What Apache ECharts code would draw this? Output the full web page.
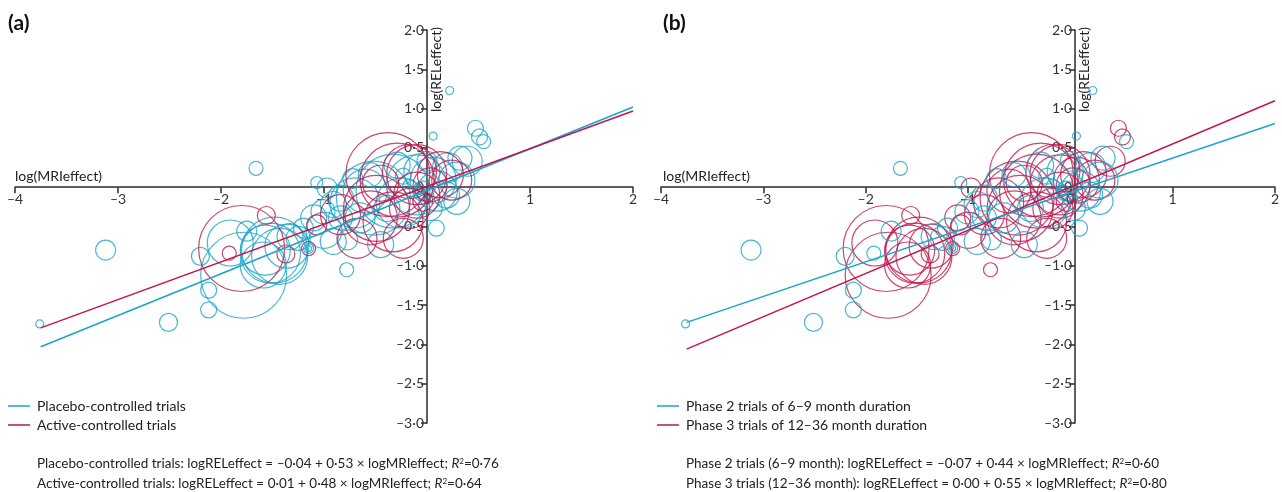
<!DOCTYPE html>
<html>
<head>
<meta charset="utf-8">
<script src="https://cdn.jsdelivr.net/npm/echarts@6/dist/echarts.min.js"></script>
<style>
  html, body { margin: 0; padding: 0; background: #fff; }
  #chart { width: 1282px; height: 492px; }
</style>
</head>
<body>
<div id="chart"></div>
<script>
// tick values and their printed labels
const xTicks = [-4, -3, -2, -1, 0, 1, 2];
const xTickLabels = ['–4', '–3', '–2', '–1', '0', '1', '2'];
const yTicks = [-3, -2.5, -2, -1.5, -1, -0.5, 0, 0.5, 1, 1.5, 2];
const yTickLabels = ['–3·0', '–2·5', '–2·0', '–1·5', '–1·0', '–0·5', '0', '0·5', '1·0', '1·5', '2·0'];

// one row per trial: log(MRIeffect), log(RELeffect), weight, control arm (P/A), phase (2/3)
const trials = [
  [0.22, 1.23, 4, 'P', 2],
  [-1.66, 0.24, 7, 'P', 2],
  [-3.12, -0.80, 10, 'P', 2],
  [-2.51, -1.72, 9, 'P', 2],
  [-3.76, -1.74, 4, 'P', 2],
  [-1.07, 0.06, 6, 'P', 2],
  [-2.20, -0.88, 9, 'P', 2],
  [-2.12, -1.31, 8, 'P', 2],
  [-2.12, -1.56, 8, 'P', 2],
  [-1.92, -0.84, 7, 'A', 2],
  [-1.80, -0.78, 43, 'A', 3],
  [-1.78, -1.12, 43, 'P', 3],
  [-1.91, -0.71, 23, 'P', 3],
  [-1.56, -0.36, 9, 'A', 3],
  [-1.37, -0.85, 9, 'A', 3],
  [-1.15, -0.78, 7, 'A', 3],
  [-1.15, -0.78, 5, 'P', 2],
  [-1.15, -0.78, 3, 'P', 2],
  [-1.07, -0.48, 10, 'A', 3],
  [-0.78, -1.05, 7, 'P', 3],
  [-1.57, -0.80, 25, 'P', 3],
  [-1.52, -0.84, 30, 'P', 3],
  [-1.48, -0.80, 33, 'P', 3],
  [-1.43, -0.88, 28, 'P', 3],
  [-1.36, -0.75, 22, 'P', 3],
  [-1.59, -0.99, 23, 'P', 3],
  [-1.75, -0.56, 10, 'P', 2],
  [-1.33, -0.63, 13, 'P', 2],
  [-1.25, -0.65, 12, 'P', 2],
  [-1.20, -0.52, 10, 'P', 2],
  [-1.10, -0.39, 13, 'P', 3],
  [-1.01, -0.31, 12, 'P', 2],
  [-0.91, -0.22, 13, 'P', 2],
  [-0.84, -0.39, 12, 'P', 2],
  [-0.77, -0.67, 10, 'P', 2],
  [-1.00, -0.55, 18, 'P', 3],
  [-0.70, -0.20, 25, 'P', 3],
  [-0.38, 0.16, 42, 'A', 3],
  [-0.29, 0.09, 37, 'A', 3],
  [-0.10, 0.16, 30, 'A', 3],
  [0.13, 0.16, 23, 'A', 3],
  [0.24, 0.09, 20, 'A', 3],
  [0.03, 0.03, 17, 'A', 3],
  [-0.45, 0.05, 18, 'A', 3],
  [-0.55, -0.39, 27, 'A', 3],
  [-0.33, -0.44, 30, 'A', 3],
  [-0.17, -0.27, 20, 'A', 3],
  [-0.84, -0.35, 20, 'A', 3],
  [-0.68, -0.65, 20, 'A', 3],
  [-0.23, -0.65, 20, 'A', 3],
  [-0.10, -0.10, 23, 'A', 3],
  [-0.04, -0.18, 10, 'A', 3],
  [-0.49, -0.27, 33, 'A', 3],
  [-0.17, 0.20, 27, 'A', 3],
  [-0.33, -0.05, 37, 'P', 3],
  [-0.10, 0.03, 30, 'P', 3],
  [0.06, 0.09, 23, 'P', 3],
  [-0.60, -0.05, 22, 'P', 3],
  [0.29, 0.09, 18, 'P', 2],
  [0.32, 0.37, 12, 'P', 2],
  [0.47, 0.75, 8, 'P', 3],
  [0.51, 0.64, 8, 'P', 3],
  [0.55, 0.58, 7, 'P', 2],
  [0.06, 0.65, 4, 'P', 2],
  [0.09, -0.52, 8, 'P', 2],
  [-0.72, 0.11, 10, 'P', 2],
  [0.29, -0.18, 13, 'P', 2],
  [-0.23, 0.14, 8, 'P', 2],
  [-0.17, 0.01, 7, 'P', 2],
  [-0.07, -0.03, 5, 'P', 2],
  [-0.04, -0.05, 10, 'P', 2],
  [-0.29, 0.28, 13, 'P', 2],
  [0.00, 0.33, 10, 'P', 2],
  [-0.55, 0.16, 12, 'P', 2],
  [-0.52, -0.14, 37, 'P', 3],
  [-0.84, -0.14, 13, 'P', 2],
  [-0.97, -0.01, 10, 'P', 3],
  [-0.65, -0.39, 15, 'P', 2],
  [-0.39, -0.27, 13, 'P', 2],
  [0.03, -0.27, 12, 'P', 2],
  [0.19, -0.10, 13, 'P', 2],
  [0.39, 0.33, 15, 'P', 3],
  [-0.25, -0.20, 25, 'P', 2],
  [0.10, -0.05, 20, 'P', 2],
  [-0.05, 0.20, 18, 'P', 2],
  [0.20, 0.25, 15, 'P', 2],
  [-0.91, -0.69, 13, 'P', 2],
  [-0.45, -0.73, 13, 'P', 2]
];

// fitted lines, end points
const fitPlacebo = [[-3.75, -2.03], [2, 1.02]];
const fitActive = [[-3.75, -1.79], [2, 0.97]];
const fitPhase2 = [[-3.75, -1.72], [2, 0.81]];
const fitPhase3 = [[-3.75, -2.06], [2, 1.10]];

const namesA = ['Placebo-controlled trials', 'Active-controlled trials'];
const namesB = ['Phase 2 trials of 6–9 month duration', 'Phase 3 trials of 12–36 month duration'];
const eqA = [
  ['Placebo-controlled trials: logRELeffect = –0·04 + 0·53 × logMRIeffect; ', '=0·76'],
  ['Active-controlled trials: logRELeffect = 0·01 + 0·48 × logMRIeffect; ', '=0·64']
];
const eqB = [
  ['Phase 2 trials (6–9 month): logRELeffect = –0·07 + 0·44 × logMRIeffect; ', '=0·60'],
  ['Phase 3 trials (12–36 month): logRELeffect = 0·00 + 0·55 × logMRIeffect; ', '=0·80']
];

const BLUE = '#19a5cb';
const RED = '#c1164c';
const FONT = 'Lato, "Liberation Sans", sans-serif';

const chart = echarts.init(document.getElementById('chart'));

const pick = (col, val) => trials.filter(t => t[col] === val).map(t => [t[0], t[1], t[2]]);

// axes are moved onto the origin with offset (grid height 393 -> zero 235.8px above bottom)
function xAxisFor(grid) {
  return {
    type: 'value', gridIndex: grid, min: -4, max: 2, interval: 1,
    position: 'bottom', offset: -235.8,
    axisLine: { onZero: false, lineStyle: { color: '#2b2b2b', width: 1.5 } },
    axisTick: { length: 6, lineStyle: { color: '#2b2b2b', width: 1.5 } },
    axisLabel: {
      fontFamily: FONT, fontSize: 14, color: '#333', margin: 5,
      formatter: v => xTickLabels[xTicks.indexOf(v)]
    },
    splitLine: { show: false }
  };
}
function yAxisFor(grid, off) {
  return {
    type: 'value', gridIndex: grid, min: -3, max: 2, interval: 0.5,
    position: 'left', offset: off,
    axisLine: { onZero: false, lineStyle: { color: '#2b2b2b', width: 1.5 } },
    axisTick: { length: 6, lineStyle: { color: '#2b2b2b', width: 1.5 } },
    axisLabel: {
      fontFamily: FONT, fontSize: 14, color: '#333', margin: 3,
      formatter: v => yTickLabels[yTicks.indexOf(v)]
    },
    splitLine: { show: false }
  };
}
function bubbles(name, grid, data, color) {
  return {
    name: name, type: 'scatter', xAxisIndex: grid, yAxisIndex: grid,
    data: data, symbol: 'circle', symbolSize: d => d[2] * 2,
    itemStyle: { color: 'rgba(0,0,0,0)', borderColor: color, borderWidth: 1.2 },
    silent: true
  };
}
function fit(name, grid, data, color) {
  return {
    name: name, type: 'line', xAxisIndex: grid, yAxisIndex: grid,
    data: data, showSymbol: false, color: color,
    lineStyle: { color: color, width: 1.5 }, itemStyle: { color: color },
    silent: true
  };
}
function equation(x, y, parts) {
  return {
    type: 'text', left: x, top: y,
    style: {
      text: parts[0] + '{i|R}{s|2}' + parts[1],
      font: '13.5px ' + FONT, fill: '#222',
      rich: {
        i: { fontStyle: 'italic', fontSize: 13.5, fontFamily: FONT, fill: '#222' },
        s: { fontSize: 8, fontFamily: FONT, verticalAlign: 'top', padding: [0, 0, 6, 0], fill: '#222' }
      }
    }
  };
}

chart.setOption({
  animation: false,
  grid: [
    { left: 15, top: 30, width: 618, height: 393 },
    { left: 661, top: 30, width: 621, height: 393 }
  ],
  xAxis: [xAxisFor(0), xAxisFor(1)],
  yAxis: [yAxisFor(0, -412), yAxisFor(1, -414)],
  legend: [
    {
      data: namesA, orient: 'vertical', left: 8, top: 399, itemGap: 5, padding: 0,
      icon: 'rect', itemWidth: 22, itemHeight: 1.5, selectedMode: false,
      textStyle: { fontFamily: FONT, fontSize: 14, color: '#222', padding: [0, 0, 0, 2] }
    },
    {
      data: namesB, orient: 'vertical', left: 657, top: 399, itemGap: 5, padding: 0,
      icon: 'rect', itemWidth: 22, itemHeight: 1.5, selectedMode: false,
      textStyle: { fontFamily: FONT, fontSize: 14, color: '#222', padding: [0, 0, 0, 2] }
    }
  ],
  series: [
    bubbles('a-placebo', 0, pick(3, 'P'), BLUE),
    bubbles('a-active', 0, pick(3, 'A'), RED),
    fit(namesA[0], 0, fitPlacebo, BLUE),
    fit(namesA[1], 0, fitActive, RED),
    bubbles('b-phase3', 1, pick(4, 3), RED),
    bubbles('b-phase2', 1, pick(4, 2), BLUE),
    fit(namesB[1], 1, fitPhase3, RED),
    fit(namesB[0], 1, fitPhase2, BLUE)
  ],
  graphic: [
    { type: 'text', left: 8, top: 13, style: { text: '(a)', font: 'bold 21px ' + FONT, fill: '#111' } },
    { type: 'text', left: 663, top: 13, style: { text: '(b)', font: 'bold 21px ' + FONT, fill: '#111' } },
    { type: 'text', x: 15, y: 176, style: { text: 'log(MRIeffect)', font: '14px ' + FONT, fill: '#222', verticalAlign: 'middle' } },
    { type: 'text', x: 663, y: 176, style: { text: 'log(MRIeffect)', font: '14px ' + FONT, fill: '#222', verticalAlign: 'middle' } },
    { type: 'text', x: 436, y: 112, rotation: Math.PI / 2, style: { text: 'log(RELeffect)', font: '14px ' + FONT, fill: '#222', verticalAlign: 'middle' } },
    { type: 'text', x: 1084, y: 112, rotation: Math.PI / 2, style: { text: 'log(RELeffect)', font: '14px ' + FONT, fill: '#222', verticalAlign: 'middle' } },
    equation(37, 457, eqA[0]),
    equation(37, 477, eqA[1]),
    equation(686, 457, eqB[0]),
    equation(686, 477, eqB[1])
  ]
});

window.addEventListener('resize', () => chart.resize());
</script>
</body>
</html>
